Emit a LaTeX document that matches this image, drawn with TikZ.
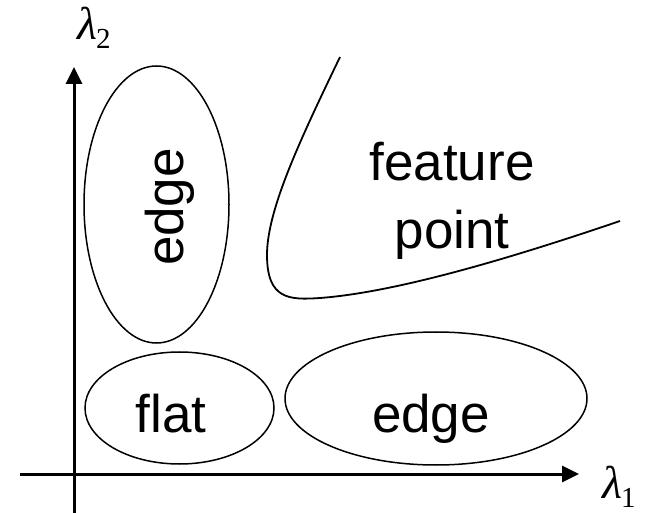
\documentclass[tikz,border=0pt]{standalone}
\usepackage{fontspec}
\setmainfont{Liberation Sans}
\newfontfamily\grk{Liberation Serif}
\newcommand{\lamsub}[1]{{\grk\itshape λ}\kern-1pt\raisebox{-9pt}{\grk\fontsize{29}{30}\selectfont #1}}
\usetikzlibrary{shapes.geometric,arrows.meta}
\begin{document}
\begin{tikzpicture}[x=1pt,y=-1pt,
  region/.style={draw, ellipse, line width=1.5pt, inner sep=0pt, outer sep=0pt},
  lbl/.style={font=\fontsize{53}{60}\selectfont, inner sep=0pt, anchor=base},
  axis/.style={line width=3pt, -{Triangle[length=17pt,width=16pt]}},
  axlbl/.style={font=\fontsize{46}{50}\selectfont, inner sep=0pt, anchor=base west},
  bound/.style={line width=1.8pt}]
\useasboundingbox (0,0) rectangle (646,513);
% regions
\node[region, minimum width=145pt, minimum height=277pt] (ev) at (156.5,204.5) {};
\node[region, minimum width=189pt, minimum height=112pt] (fl) at (179.5,408) {};
\node[region, minimum width=302pt, minimum height=133pt] (eh) at (436,398.5) {};
% texts
\node[lbl, rotate=90] (tev) at (183,207) {edge};
\node[lbl] (tfl) at (171,432) {flat};
\node[lbl] (teh) at (431,432) {edge};
\node[lbl] (tf1) at (452,181) {feature};
\node[lbl] (tf2) at (452,249) {point};
% boundary curve
\coordinate (c0) at (340,57);
\coordinate (c1) at (267,255);
\coordinate (c2) at (320,298);
\coordinate (c3) at (620,221);
\draw[bound] (c0) .. controls (300,140) and (267,210) .. (c1)
  .. controls (267,300) and (290,300) .. (c2)
  .. controls (400,292) and (520,255) .. (c3);
% axes
\coordinate (vb) at (74,513);
\coordinate (vt) at (74,67);
\coordinate (hl) at (20,474);
\coordinate (hr) at (579,474);
\draw[axis] (vb) -- (vt);
\draw[axis] (hl) -- (hr);
\node[axlbl] (l2) at (77,40) {\lamsub{2}};
\node[axlbl] (l1) at (602,498) {\lamsub{1}};
\end{tikzpicture}
\end{document}
